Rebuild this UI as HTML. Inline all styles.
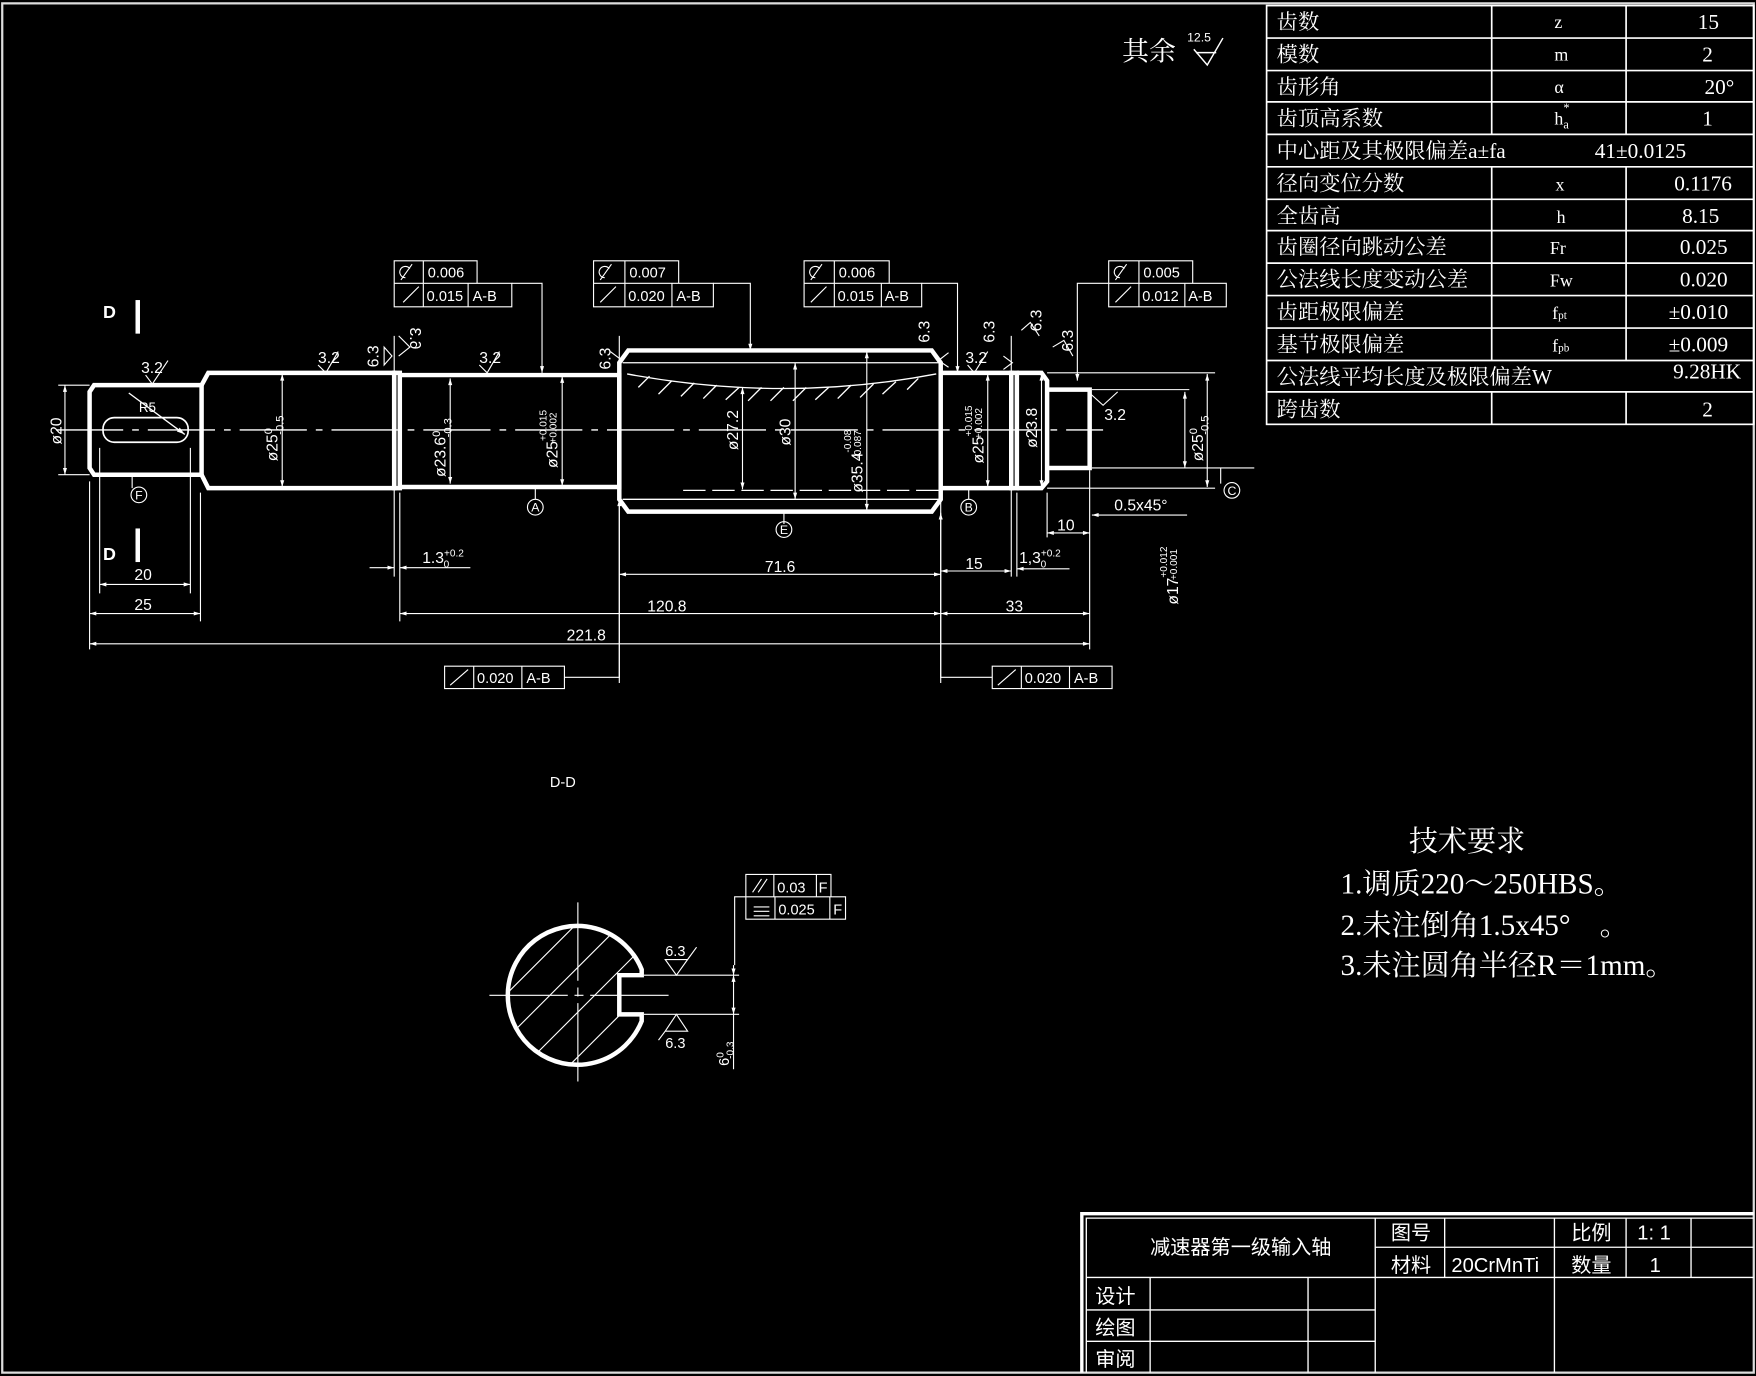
<!DOCTYPE html>
<html><head><meta charset="utf-8"><style>
html,body{margin:0;padding:0;background:#000;}
svg{display:block;}
text{fill:#fff;font-family:"Liberation Sans","Noto Sans CJK SC",sans-serif;}
.s text, text.s{font-family:"Liberation Serif","Noto Serif CJK SC",serif;}
</style></head><body>
<svg width="1756" height="1376" viewBox="0 0 1568 1229" preserveAspectRatio="none" xmlns="http://www.w3.org/2000/svg">
<defs><marker id="a" viewBox="0 0 10 10" refX="10" refY="5" markerWidth="8" markerHeight="6" orient="auto-start-reverse"><path d="M0,2 L10,5 L0,8z" fill="#fff"/></marker></defs>
<rect width="1568" height="1229" fill="#000"/>
<rect x="2" y="3" width="1564" height="1223" fill="none" stroke="#ddd" stroke-width="2"/>

<g stroke="#fff" stroke-width="1.5" fill="none">
<rect x="1131" y="5" width="435" height="374"/>
<path d="M1131,34H1566M1131,63H1566M1131,91H1566M1131,120H1566M1131,149H1566M1131,178H1566M1131,206H1566M1131,235H1566M1131,264H1566M1131,293H1566M1131,322H1566M1131,350H1566"/>
<path d="M1332,5V120M1452,5V120M1332,149V322M1452,149V322M1332,350V379M1452,350V379"/>
</g>
<g class="s" font-size="19">
<text x="1140" y="26">齿数</text><text x="1388" y="25" font-size="16">z</text><text x="1516" y="26">15</text>
<text x="1140" y="55">模数</text><text x="1388" y="54" font-size="16">m</text><text x="1520" y="55">2</text>
<text x="1140" y="84">齿形角</text><text x="1388" y="83" font-size="16">α</text><text x="1522" y="84">20°</text>
<text x="1140" y="112">齿顶高系数</text><text x="1388" y="111" font-size="16">h<tspan font-size="11" dy="4">a</tspan></text><text x="1396" y="100" font-size="11">*</text><text x="1520" y="112">1</text>
<text x="1140" y="141">中心距及其极限偏差a±fa</text><text x="1424" y="141">41±0.0125</text>
<text x="1140" y="170">径向变位分数</text><text x="1389" y="170" font-size="16">x</text><text x="1495" y="170">0.1176</text>
<text x="1140" y="199">全齿高</text><text x="1390" y="199" font-size="16">h</text><text x="1502" y="199">8.15</text>
<text x="1140" y="227">齿圈径向跳动公差</text><text x="1384" y="227" font-size="16">Fr</text><text x="1500" y="227">0.025</text>
<text x="1140" y="256">公法线长度变动公差</text><text x="1384" y="256" font-size="16">Fw</text><text x="1500" y="256">0.020</text>
<text x="1140" y="285">齿距极限偏差</text><text x="1386" y="285" font-size="16">f<tspan font-size="10">pt</tspan></text><text x="1490" y="285">±0.010</text>
<text x="1140" y="314">基节极限偏差</text><text x="1386" y="314" font-size="16">f<tspan font-size="10">pb</tspan></text><text x="1490" y="314">±0.009</text>
<text x="1140" y="343">公法线平均长度及极限偏差W</text><text x="1494" y="338">9.28HK</text>
<text x="1140" y="372">跨齿数</text><text x="1520" y="372">2</text>
</g>
<text x="1002" y="54" font-size="24" class="s">其余</text>
<text x="1060" y="37" font-size="11">12.5</text>
<path d="M1066,44 L1078,58 L1092,34" stroke="#fff" fill="none" stroke-width="1.3"/><path d="M1068,47H1086" stroke="#fff" stroke-width="1.3"/>

<g stroke="#fff" stroke-width="4" fill="none" stroke-linejoin="miter">
<path d="M84,344 H180 V424 H84 L80,418 V350 Z"/>
<path d="M180,344 L186,333 H352 V436 H186 L180,424"/>
<rect x="352" y="333" width="5" height="103"/>
<path d="M357,335 H553 V435 H357"/>
<path d="M553,324 L561,313 H832 L840,324 V446 L832,457 H561 L553,446 Z"/>
<path d="M840,333 H903 V436 H840"/>
<rect x="903" y="333" width="5" height="103"/>
<path d="M908,333 H930 L935,340 V430 L930,436 H908"/>
<path d="M935,348 H973 V418 H935"/>
</g>
<rect x="92" y="373" width="76" height="22" rx="10" stroke="#fff" stroke-width="1.5" fill="none"/>
<g stroke="#fff" stroke-width="1.2" fill="none">
<path d="M556,324 H838 M556,446 H838"/>
<path d="M560,334 Q700,360 836,334"/>
<path d="M580,336 L570,346 M600,340 L588,352 M620,342 L608,354 M640,344 L628,356 M660,346 L648,357 M680,346 L668,358 M700,346 L688,358 M720,346 L708,358 M740,346 L728,357 M760,344 L748,356 M780,343 L768,355 M800,341 L788,352 M820,338 L810,348"/>
<path d="M50,384 H985" stroke-dasharray="60,8,6,8"/>
<path d="M610,438 H840" stroke-dasharray="20,6"/>
<path d="M115,351 L165,388" marker-end="url(#a)"/>
</g>
<g stroke="#fff" stroke-width="1" fill="none">
<path d="M58,344V424" marker-start="url(#a)" marker-end="url(#a)"/><path d="M52,344H80M52,424H80"/>
<path d="M252,334V435" marker-start="url(#a)" marker-end="url(#a)"/>
<path d="M402,338V432" marker-start="url(#a)" marker-end="url(#a)"/>
<path d="M502,336V434" marker-start="url(#a)" marker-end="url(#a)"/>
<path d="M663,346V437" marker-start="url(#a)" marker-end="url(#a)"/>
<path d="M710,324V446" marker-start="url(#a)" marker-end="url(#a)"/>
<path d="M774,314V456" marker-start="url(#a)" marker-end="url(#a)"/>
<path d="M882,334V435" marker-start="url(#a)" marker-end="url(#a)"/>
<path d="M930,334V435" marker-start="url(#a)" marker-end="url(#a)"/>
<path d="M1078,334V435" marker-start="url(#a)" marker-end="url(#a)"/><path d="M935,333H1085M935,436H1085"/>
<path d="M1058,350V418" marker-start="url(#a)" marker-end="url(#a)"/><path d="M975,348H1062M975,418H1120"/>
<path d="M80,430V580M89,400V530M170,400V530M179,440V555M352,300V515M357,440V555M553,300V610M840,330V610M903,300V515M908,440V515M935,440V480M973,420V580"/>
<path d="M89,522H170" marker-start="url(#a)" marker-end="url(#a)"/>
<path d="M80,548H179" marker-start="url(#a)" marker-end="url(#a)"/>
<path d="M357,548H840" marker-start="url(#a)" marker-end="url(#a)"/>
<path d="M840,548H973" marker-start="url(#a)" marker-end="url(#a)"/>
<path d="M80,575H973" marker-start="url(#a)" marker-end="url(#a)"/>
<path d="M553,513H840" marker-start="url(#a)" marker-end="url(#a)"/>
<path d="M840,510H903" marker-start="url(#a)" marker-end="url(#a)"/>
<path d="M330,507H352" marker-end="url(#a)"/><path d="M357,507H420" marker-start="url(#a)"/>
<path d="M908,508H955" marker-start="url(#a)"/>
<path d="M935,476H973" marker-start="url(#a)" marker-end="url(#a)"/>
<path d="M1060,460H975" marker-end="url(#a)"/>
<path d="M118,424V436M478,436V446M700,458V468M865,436V446M1090,418V432"/>
<circle cx="124" cy="442" r="7"/><circle cx="478" cy="453" r="7"/><circle cx="700" cy="473" r="7"/><circle cx="865" cy="453" r="7"/><circle cx="1100" cy="438" r="7"/>
</g>
<g font-size="11" text-anchor="middle"><text x="124" y="446">F</text><text x="478" y="457">A</text><text x="700" y="477">E</text><text x="865" y="457">B</text><text x="1100" y="442">C</text></g>
<g font-size="14">
<text transform="translate(55,397) rotate(-90)">ø20</text>
<text transform="translate(248,412) rotate(-90)">ø25<tspan font-size="10" dy="-5">0</tspan><tspan font-size="10" dy="10" dx="-6">-0.5</tspan></text>
<text transform="translate(398,426) rotate(-90)">ø23.6<tspan font-size="10" dy="-5">0</tspan><tspan font-size="10" dy="10" dx="-6">-0.3</tspan></text>
<text transform="translate(498,418) rotate(-90)">ø25<tspan font-size="9" dy="-10">+0.015</tspan><tspan font-size="9" dy="9" dx="-30">+0.002</tspan></text>
<text transform="translate(659,402) rotate(-90)">ø27.2</text>
<text transform="translate(706,398) rotate(-90)">ø30</text>
<text transform="translate(770,440) rotate(-90)">ø35.4<tspan font-size="9" dy="-10">-0.08</tspan><tspan font-size="9" dy="9" dx="-26">-0.087</tspan></text>
<text transform="translate(878,414) rotate(-90)">ø25<tspan font-size="9" dy="-10">+0.015</tspan><tspan font-size="9" dy="9" dx="-30">+0.002</tspan></text>
<text transform="translate(926,400) rotate(-90)">ø23.8</text>
<text transform="translate(1074,412) rotate(-90)">ø25<tspan font-size="10" dy="-5">0</tspan><tspan font-size="10" dy="10" dx="-6">-0.5</tspan></text>
<text transform="translate(1052,540) rotate(-90)">ø17<tspan font-size="9" dy="-10">+0.012</tspan><tspan font-size="9" dy="9" dx="-30">+0.001</tspan></text>
<text x="120" y="518">20</text><text x="120" y="545">25</text><text x="578" y="546">120.8</text><text x="898" y="546">33</text>
<text x="506" y="572">221.8</text><text x="683" y="511">71.6</text><text x="862" y="508">15</text>
<text x="377" y="503">1.3<tspan font-size="9" dy="-6">+0.2</tspan><tspan font-size="9" dy="10" dx="-18">0</tspan></text>
<text x="910" y="503">1,3<tspan font-size="9" dy="-6">+0.2</tspan><tspan font-size="9" dy="10" dx="-18">0</tspan></text>
<text x="944" y="474">10</text><text x="995" y="456">0.5x45°</text>
<text x="126" y="333">3.2</text><text x="284" y="324">3.2</text><text x="428" y="324">3.2</text><text x="862" y="324">3.2</text><text x="986" y="375">3.2</text>
<text x="124" y="368" font-size="12">R5</text>
<text transform="translate(338,328) rotate(-90)">6.3</text><text transform="translate(366,312) rotate(-90) scale(1,-1)" >6.3</text>
<text transform="translate(545,330) rotate(-90)">6.3</text><text transform="translate(830,306) rotate(-90)">6.3</text>
<text transform="translate(888,306) rotate(-90)">6.3</text><text transform="translate(930,296) rotate(-90)">6.3</text><text transform="translate(958,314) rotate(-90)">6.3</text>
</g>
<g stroke="#fff" stroke-width="1" fill="none">
<path d="M130,335 L136,343 L150,322 M284,326 L291,333 L302,314 M428,326 L435,333 L446,314 M864,326 L870,333 L882,314"/>
<path d="M343,310 L350,318 L343,326Z M553,320 L545,314 M356,300 L366,310 L356,318 M974,352 L985,362 L998,350"/>
<path d="M847,315 L838,322 L847,328 M896,318 L904,324 L896,330 M912,295 L920,288 L928,300 M940,310 L950,304 L958,318"/>
</g>
<text x="92" y="284" font-size="16" font-weight="bold">D</text><rect x="121" y="268" width="4" height="30" fill="#fff"/>
<text x="92" y="500" font-size="16" font-weight="bold">D</text><rect x="121" y="472" width="4" height="30" fill="#fff"/>

<g stroke="#fff" stroke-width="1" fill="none">
<path d="M352,233H426V253H352Z M378,233V253 M352,253H457V274H352Z M378,253V274 M418,253V274"/>
<path d="M457,253H484V333" marker-end="url(#a)"/>
<path d="M530,233H606V253H530Z M558,233V253 M530,253H637V274H530Z M558,253V274 M600,253V274"/>
<path d="M637,253H670V313" marker-end="url(#a)"/>
<path d="M718,233H794V253H718Z M745,233V253 M718,253H823V274H718Z M745,253V274 M787,253V274"/>
<path d="M823,253H855V333" marker-end="url(#a)"/>
<path d="M990,233H1065V253H990Z M1017,233V253 M990,253H1095V274H990Z M1017,253V274 M1058,253V274"/>
<path d="M990,253H962V340" marker-end="url(#a)"/>
<path d="M397,595H504V615H397Z M423,595V615 M466,595V615"/><path d="M504,605H553V446" marker-end="url(#a)"/>
<path d="M886,595H993V615H886Z M912,595V615 M955,595V615"/><path d="M886,605H840V458" marker-end="url(#a)"/>
<path d="M358,250L368,236M362,248a5,5 0 1,1 4,-8 M536,250L546,236M540,248a5,5 0 1,1 4,-8 M724,250L734,236M728,248a5,5 0 1,1 4,-8 M996,250L1006,236M1000,248a5,5 0 1,1 4,-8"/>
<path d="M360,270L374,256 M536,270L550,256 M724,270L738,256 M996,270L1010,256 M402,612L418,598 M891,612L907,598"/>
</g>
<g font-size="13">
<text x="382" y="248">0.006</text><text x="381" y="269">0.015</text><text x="422" y="269">A-B</text>
<text x="562" y="248">0.007</text><text x="561" y="269">0.020</text><text x="604" y="269">A-B</text>
<text x="749" y="248">0.006</text><text x="748" y="269">0.015</text><text x="790" y="269">A-B</text>
<text x="1021" y="248">0.005</text><text x="1020" y="269">0.012</text><text x="1061" y="269">A-B</text>
<text x="426" y="610">0.020</text><text x="470" y="610">A-B</text>
<text x="915" y="610">0.020</text><text x="959" y="610">A-B</text>
</g>
<text x="491" y="703" font-size="13">D-D</text>

<g stroke="#fff" fill="none">
<path d="M573,866 A62,62 0 1,0 573,912 L573,906 H553 V871 H573 Z" stroke-width="4"/>
<clipPath id="c"><path d="M573,866 A62,62 0 1,0 573,912 L573,906 H553 V871 H573 Z"/></clipPath>
<g clip-path="url(#c)" stroke-width="1"><path d="M400,940L540,800M420,960L560,820M440,980L580,840M460,1000L600,860M480,1020L620,880M500,1040L640,900M380,920L520,780M360,900L500,760M520,1060L660,920"/></g>
<path d="M437,889H600M516,806V972" stroke-width="1" stroke-dasharray="70,6,8,6"/>
<path d="M575,871H660M575,906H660" stroke-width="1"/>
<path d="M655,862V871" stroke-width="1" marker-end="url(#a)"/><path d="M655,871V906" stroke-width="1" marker-start="url(#a)" marker-end="url(#a)"/><path d="M655,906V955" stroke-width="1"/>
<path d="M666,801H656V862" stroke-width="1"/>
<path d="M666,781H742V801H666Z M691,781V801 M729,781V801 M666,801H755V821H666Z M692,801V821 M741,801V821" stroke-width="1"/>
<path d="M594,857L604,871L614,857Z M614,857L622,846 M594,921L604,906L614,921Z M594,921L588,929 M672,797L680,785M677,797L685,785 M673,810H687M673,814H687M673,818H687" stroke-width="1"/>
</g>
<g font-size="13"><text x="694" y="797">0.03</text><text x="731" y="797">F</text><text x="695" y="817">0.025</text><text x="744" y="817">F</text>
<text x="594" y="854">6.3</text><text x="594" y="936">6.3</text>
<text transform="translate(651,952) rotate(-90)">6<tspan font-size="9" dy="-5">0</tspan><tspan font-size="9" dy="9" dx="-6">-0.3</tspan></text></g>

<g class="s" font-size="26">
<text x="1258" y="760">技术要求</text>
<text x="1197" y="798">1.调质220～250HBS。</text>
<text x="1197" y="835">2.未注倒角1.5x45°　。</text>
<text x="1197" y="871">3.未注圆角半径R＝1mm。</text>
</g>

<g stroke="#fff" fill="none">
<path d="M966,1226V1084H1566" stroke-width="3"/>
<g stroke-width="1.2">
<path d="M970,1226V1088H1566 M970,1141H1566 M1228,1114H1566 M1228,1088V1226 M1290,1088V1141 M1388,1088V1226 M1452,1088V1141 M1510,1088V1141 M970,1170H1228 M970,1198H1228 M1027,1141V1226 M1168,1141V1226"/>
</g></g>
<g font-size="18"><text x="1027" y="1120">减速器第一级输入轴</text>
<text x="1242" y="1107">图号</text><text x="1242" y="1136">材料</text><text x="1296" y="1136">20CrMnTi</text>
<text x="1403" y="1107">比例</text><text x="1403" y="1136">数量</text><text x="1462" y="1107">1: 1</text><text x="1473" y="1136">1</text>
<text x="978" y="1164">设计</text><text x="978" y="1192">绘图</text><text x="978" y="1220">审阅</text></g>
</svg>
</body></html>
